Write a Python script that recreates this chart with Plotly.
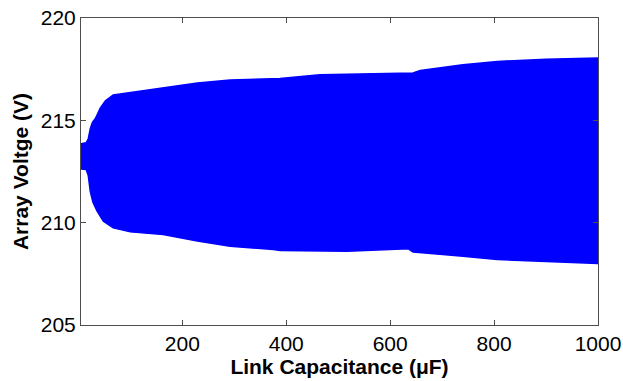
import plotly.graph_objects as go

# Upper envelope of array voltage band (V) vs link capacitance (uF)
upper_c = [5, 15, 19, 23, 27, 33, 42, 52, 67, 100, 163, 229, 292, 388, 465, 548, 644, 658, 696, 740, 806, 900, 1000]
upper_v = [213.85, 213.9, 214.1, 214.6, 214.9, 215.1, 215.6, 215.96, 216.24, 216.36, 216.6, 216.82, 216.97, 217.04, 217.23, 217.26, 217.31, 217.43, 217.56, 217.72, 217.88, 217.98, 218.05]

# Lower envelope
lower_c = [5, 15, 19, 23, 28, 36, 48, 67, 100, 163, 229, 292, 375, 388, 517, 635, 644, 696, 740, 806, 900, 1000]
lower_v = [212.62, 212.6, 212.3, 211.5, 211.0, 210.56, 210.07, 209.75, 209.55, 209.42, 209.1, 208.85, 208.69, 208.64, 208.6, 208.72, 208.57, 208.47, 208.36, 208.2, 208.1, 208.0]

x_ticks = [200, 400, 600, 800, 1000]
y_ticks = [205, 210, 215, 220]

poly_x = upper_c + lower_c[::-1]
poly_y = upper_v + lower_v[::-1]

fig = go.Figure()
fig.add_trace(go.Scatter(
    x=poly_x, y=poly_y, mode="lines", fill="toself",
    fillcolor="#0000FF", line=dict(color="#0000FF", width=1.5),
    hoverinfo="skip", showlegend=False,
))

FONT = "Liberation Sans, Arial, sans-serif"
axis_common = dict(
    showgrid=False, zeroline=False, showline=True, linecolor="#4d4d4d",
    linewidth=1, mirror="ticks", ticks="inside", ticklen=5, tickcolor="#4d4d4d",
    tickfont=dict(family=FONT, size=21, color="black"),
    automargin=False,
)

fig.update_xaxes(
    range=[5, 1000], tickvals=x_ticks, ticktext=[str(v) for v in x_ticks],
    title=dict(text="<b>Link Capacitance (μF)</b>", standoff=2,
               font=dict(family=FONT, size=21, color="black")),
    **axis_common,
)
fig.update_yaxes(
    range=[205, 220], tickvals=y_ticks, ticktext=[str(v) for v in y_ticks],
    title=dict(text="<b>Array Voltge (V)</b>", standoff=6,
               font=dict(family=FONT, size=21, color="black")),
    **axis_common,
)

fig.update_layout(
    width=623, height=381,
    margin=dict(l=81, r=25, t=18, b=56),
    paper_bgcolor="white", plot_bgcolor="white",
    showlegend=False,
)

fig.write_html("out.html")
